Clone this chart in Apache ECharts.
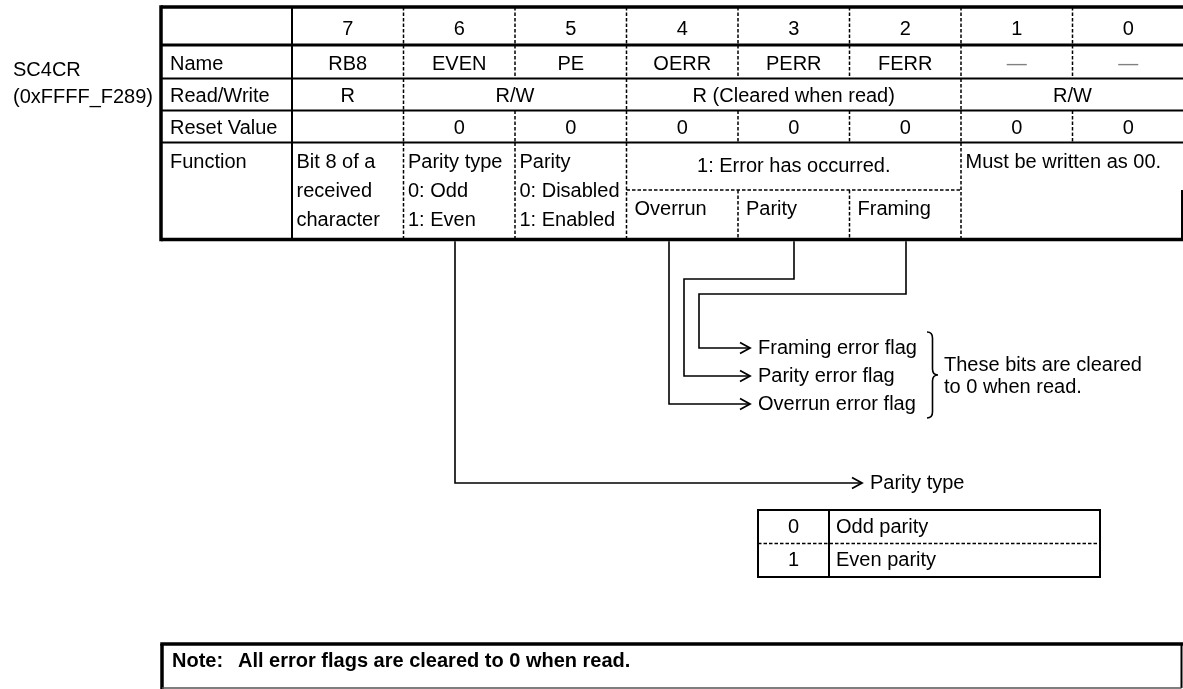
<!DOCTYPE html>
<html>
<head>
<meta charset="utf-8">
<title>SC4CR register</title>
<script src="https://cdn.jsdelivr.net/npm/echarts@6.0.0/dist/echarts.min.js"></script>
<style>
html,body{margin:0;padding:0;background:#ffffff;}
#chart{width:1183px;height:689px;}
</style>
</head>
<body>
<div id="chart"></div>
<script>
// ---------------- data ----------------
const registerName = 'SC4CR';
const registerAddress = '(0xFFFF_F289)';
const bitNumbers = [7, 6, 5, 4, 3, 2, 1, 0];
const rowLabels = ['Name', 'Read/Write', 'Reset Value', 'Function'];
const bitNames = ['RB8', 'EVEN', 'PE', 'OERR', 'PERR', 'FERR', '—', '—'];
const rwSpans = [[7, 7, 'R'], [6, 5, 'R/W'], [4, 2, 'R (Cleared when read)'], [1, 0, 'R/W']];
const resetValues = ['', '0', '0', '0', '0', '0', '0', '0'];
const functionSpans = [
  [7, 7, ['Bit 8 of a', 'received', 'character']],
  [6, 6, ['Parity type', '0: Odd', '1: Even']],
  [5, 5, ['Parity', '0: Disabled', '1: Enabled']],
  [4, 2, ['1: Error has occurred.']],
  [1, 0, ['Must be written as 00.']]
];
const errorSubLabels = [[4, 'Overrun'], [3, 'Parity'], [2, 'Framing']];
const flagLabels = ['Framing error flag', 'Parity error flag', 'Overrun error flag'];
const braceNote = ['These bits are cleared', 'to 0 when read.'];
const parityTitle = 'Parity type';
const parityCodes = ['0', '1'];
const parityMeanings = ['Odd parity', 'Even parity'];
const noteLabel = 'Note:';
const noteText = 'All error flags are cleared to 0 when read.';

// ---------------- layout ----------------
const W = 1183, H = 689;
const FONT = '"Liberation Sans", Arial, Helvetica, sans-serif';
const LAY = {
  tableLeft: 161, labelW: 131, colW: 111.5, tableRight: 1184,
  rowY: [7, 45, 78.5, 110.5, 142.5, 239.5],
  splitY: 190, rightEdge: 1182,
  textY: [29, 64.5, 96.5, 128.5, 162],
  funcLineGap: 29, errTitleY: 166.5, subY: 209,
  labelPad: 9, funcPad: 4.5, subPad: 8,
  regX: 13, regY: [70, 97.5],
  drop: {6: 455, 4: 669, 3: 794, 2: 906},
  bend: {3: [279, 684], 2: [294, 699]},
  flagY: [348, 376, 404],
  arrowTip: 750, flagTextX: 758,
  parityY: 483, parityTip: 862, parityTextX: 870,
  brace: {x: 927, w: 11, top: 332, bottom: 418, mid: 375, r: 6},
  braceTextX: 944, braceTextY: [365, 387],
  ptab: {left: 758, mid: 829, right: 1100, top: 510, split: 543.5, bottom: 577, codeX: 793.5, textX: 836},
  note: {left: 162, right: 1181.5, top: 644, bottom: 688, labelX: 172, textX: 238, textY: 661}
};
const bitL = b => LAY.tableLeft + LAY.labelW + (7 - b) * LAY.colW;
const bitR = b => bitL(b) + LAY.colW;
const DASH = [3.5, 2];

function renderItem(params, api) {
  const P = (x, y) => api.coord([x, y]);
  const kids = [];
  const seg = (x1, y1, x2, y2, w, dash, color) => {
    const a = P(x1, y1), b = P(x2, y2);
    kids.push({type: 'line', shape: {x1: a[0], y1: a[1], x2: b[0], y2: b[1]},
      style: {stroke: color || '#000', lineWidth: w, lineDash: dash || null}});
  };
  const poly = (pts, w) => kids.push({type: 'polyline',
    shape: {points: pts.map(p => P(p[0], p[1]))},
    style: {stroke: '#000', fill: 'none', lineWidth: w, lineJoin: 'miter'}});
  const txt = (s, x, y, align, opt) => {
    opt = opt || {};
    const p = P(x, y);
    kids.push({type: 'text', style: {text: s, x: p[0], y: p[1], align: align || 'left',
      verticalAlign: 'middle', font: (opt.bold ? 'bold ' : '') + (opt.size || 20) + 'px ' + FONT,
      fill: opt.color || '#000'}});
  };
  const arrowHead = (x, y) => poly([[x - 10, y - 5.5], [x, y], [x - 10, y + 5.5]], 1.8);

  const R = LAY.rowY, L = LAY.tableLeft, TR = LAY.tableRight;
  // ---- register name ----
  txt(registerName, LAY.regX, LAY.regY[0]);
  txt(registerAddress, LAY.regX, LAY.regY[1]);

  // ---- outer / solid lines ----
  seg(L, R[0], TR, R[0], 3.5);
  seg(L, R[0] - 1.75, L, R[5] + 1.75, 3.5);
  seg(L, R[1], TR, R[1], 3);
  [R[2], R[3], R[4]].forEach(y => seg(L, y, TR, y, 2));
  seg(L, R[5], TR, R[5], 3.5);
  seg(bitL(7), R[0], bitL(7), R[5], 2);
  seg(LAY.rightEdge, LAY.splitY, LAY.rightEdge, R[5], 2);

  // ---- dashed dividers ----
  const allB = bitNumbers.slice(0, 7); // boundary right of bit b
  allB.forEach(b => { seg(bitR(b), R[0], bitR(b), R[1], 1.5, DASH); });
  allB.forEach(b => { seg(bitR(b), R[1], bitR(b), R[2], 1.5, DASH); });
  rwSpans.slice(0, -1).forEach(s => seg(bitR(s[1]), R[2], bitR(s[1]), R[3], 1.5, DASH));
  allB.forEach(b => { seg(bitR(b), R[3], bitR(b), R[4], 1.5, DASH); });
  functionSpans.slice(0, -1).forEach(s => seg(bitR(s[1]), R[4], bitR(s[1]), R[5], 1.5, DASH));
  errorSubLabels.slice(0, -1).forEach(s => seg(bitR(s[0]), LAY.splitY, bitR(s[0]), R[5], 1.5, DASH));
  seg(bitL(errorSubLabels[0][0]), LAY.splitY, bitR(errorSubLabels[errorSubLabels.length - 1][0]), LAY.splitY, 1.5, DASH);

  // ---- header + rows text ----
  bitNumbers.forEach(b => txt(String(b), (bitL(b) + bitR(b)) / 2, LAY.textY[0], 'center'));
  rowLabels.forEach((s, i) => txt(s, L + LAY.labelPad, LAY.textY[i + 1]));
  bitNames.forEach((s, i) => {
    const b = bitNumbers[i];
    txt(s, (bitL(b) + bitR(b)) / 2, LAY.textY[1], 'center', s === '—' ? {color: '#808080'} : null);
  });
  rwSpans.forEach(s => txt(s[2], (bitL(s[0]) + bitR(s[1])) / 2, LAY.textY[2], 'center'));
  resetValues.forEach((s, i) => {
    const b = bitNumbers[i];
    if (s) txt(s, (bitL(b) + bitR(b)) / 2, LAY.textY[3], 'center');
  });
  functionSpans.forEach(s => {
    if (s[0] !== s[1] && s[2].length === 1 && s[0] === errorSubLabels[0][0]) {
      txt(s[2][0], (bitL(s[0]) + bitR(s[1])) / 2, LAY.errTitleY, 'center');
    } else {
      s[2].forEach((line, k) => txt(line, bitL(s[0]) + LAY.funcPad, LAY.textY[4] + k * LAY.funcLineGap));
    }
  });
  errorSubLabels.forEach(s => txt(s[1], bitL(s[0]) + LAY.subPad, LAY.subY));

  // ---- flag arrows ----
  const y0 = R[5] + 1.75;
  // parity type (bit 6)
  poly([[LAY.drop[6], y0], [LAY.drop[6], LAY.parityY], [LAY.parityTip, LAY.parityY]], 1.6);
  arrowHead(LAY.parityTip, LAY.parityY);
  txt(parityTitle, LAY.parityTextX, LAY.parityY);
  // overrun (bit 4)
  poly([[LAY.drop[4], y0], [LAY.drop[4], LAY.flagY[2]], [LAY.arrowTip, LAY.flagY[2]]], 1.6);
  // parity error (bit 3)
  poly([[LAY.drop[3], y0], [LAY.drop[3], LAY.bend[3][0]], [LAY.bend[3][1], LAY.bend[3][0]],
        [LAY.bend[3][1], LAY.flagY[1]], [LAY.arrowTip, LAY.flagY[1]]], 1.6);
  // framing (bit 2)
  poly([[LAY.drop[2], y0], [LAY.drop[2], LAY.bend[2][0]], [LAY.bend[2][1], LAY.bend[2][0]],
        [LAY.bend[2][1], LAY.flagY[0]], [LAY.arrowTip, LAY.flagY[0]]], 1.6);
  LAY.flagY.forEach((y, i) => { arrowHead(LAY.arrowTip, y); txt(flagLabels[i], LAY.flagTextX, y); });

  // ---- brace ----
  const br = LAY.brace;
  const x0 = br.x, x1 = br.x + br.w / 2, x2 = br.x + br.w, r = br.r;
  const pts = [[x0, br.top], [x1, br.top], [x1, br.top + r], [x1, br.mid - r], [x1, br.mid], [x2, br.mid],
               [x1, br.mid], [x1, br.mid + r], [x1, br.bottom - r], [x1, br.bottom], [x0, br.bottom]].map(p => P(p[0], p[1]));
  const f = p => p[0].toFixed(2) + ' ' + p[1].toFixed(2);
  const d = 'M' + f(pts[0]) + ' Q' + f(pts[1]) + ' ' + f(pts[2]) + ' L' + f(pts[3]) +
            ' Q' + f(pts[4]) + ' ' + f(pts[5]) + ' Q' + f(pts[6]) + ' ' + f(pts[7]) +
            ' L' + f(pts[8]) + ' Q' + f(pts[9]) + ' ' + f(pts[10]);
  kids.push({type: 'path', shape: {pathData: d}, style: {stroke: '#000', fill: 'none', lineWidth: 1.6}});
  braceNote.forEach((s, i) => txt(s, LAY.braceTextX, LAY.braceTextY[i]));

  // ---- parity table ----
  const t = LAY.ptab;
  seg(t.left, t.top, t.right, t.top, 2);
  seg(t.left, t.bottom, t.right, t.bottom, 2);
  seg(t.left, t.top - 1, t.left, t.bottom + 1, 2);
  seg(t.right, t.top - 1, t.right, t.bottom + 1, 2);
  seg(t.mid, t.top, t.mid, t.bottom, 2);
  seg(t.left, t.split, t.right, t.split, 1.5, DASH);
  const rowsC = [(t.top + t.split) / 2, (t.split + t.bottom) / 2];
  parityCodes.forEach((s, i) => txt(s, t.codeX, rowsC[i] + 0.5, 'center'));
  parityMeanings.forEach((s, i) => txt(s, t.textX, rowsC[i] + 0.5));

  // ---- note box ----
  const n = LAY.note;
  seg(n.left - 1.75, n.top, W, n.top, 3.5);
  seg(n.left, n.top, n.left, H, 3.5);
  seg(n.right, n.top, n.right, n.bottom, 2);
  seg(n.left, n.bottom, n.right, n.bottom, 1.5, null, '#555');
  txt(noteLabel, n.labelX, n.textY, 'left', {bold: true});
  txt(noteText, n.textX, n.textY, 'left', {bold: true});

  return {type: 'group', children: kids};
}

const chart = echarts.init(document.getElementById('chart'), null, {renderer: 'canvas'});
chart.setOption({
  animation: false,
  backgroundColor: '#ffffff',
  grid: {left: 0, top: 0, width: W, height: H, outerBoundsMode: 'none'},
  xAxis: {type: 'value', min: 0, max: W, show: false},
  yAxis: {type: 'value', min: 0, max: H, inverse: true, show: false},
  series: [{type: 'custom', coordinateSystem: 'cartesian2d', renderItem: renderItem,
            data: [[0, 0]], silent: true, clip: false}]
});
</script>
</body>
</html>
